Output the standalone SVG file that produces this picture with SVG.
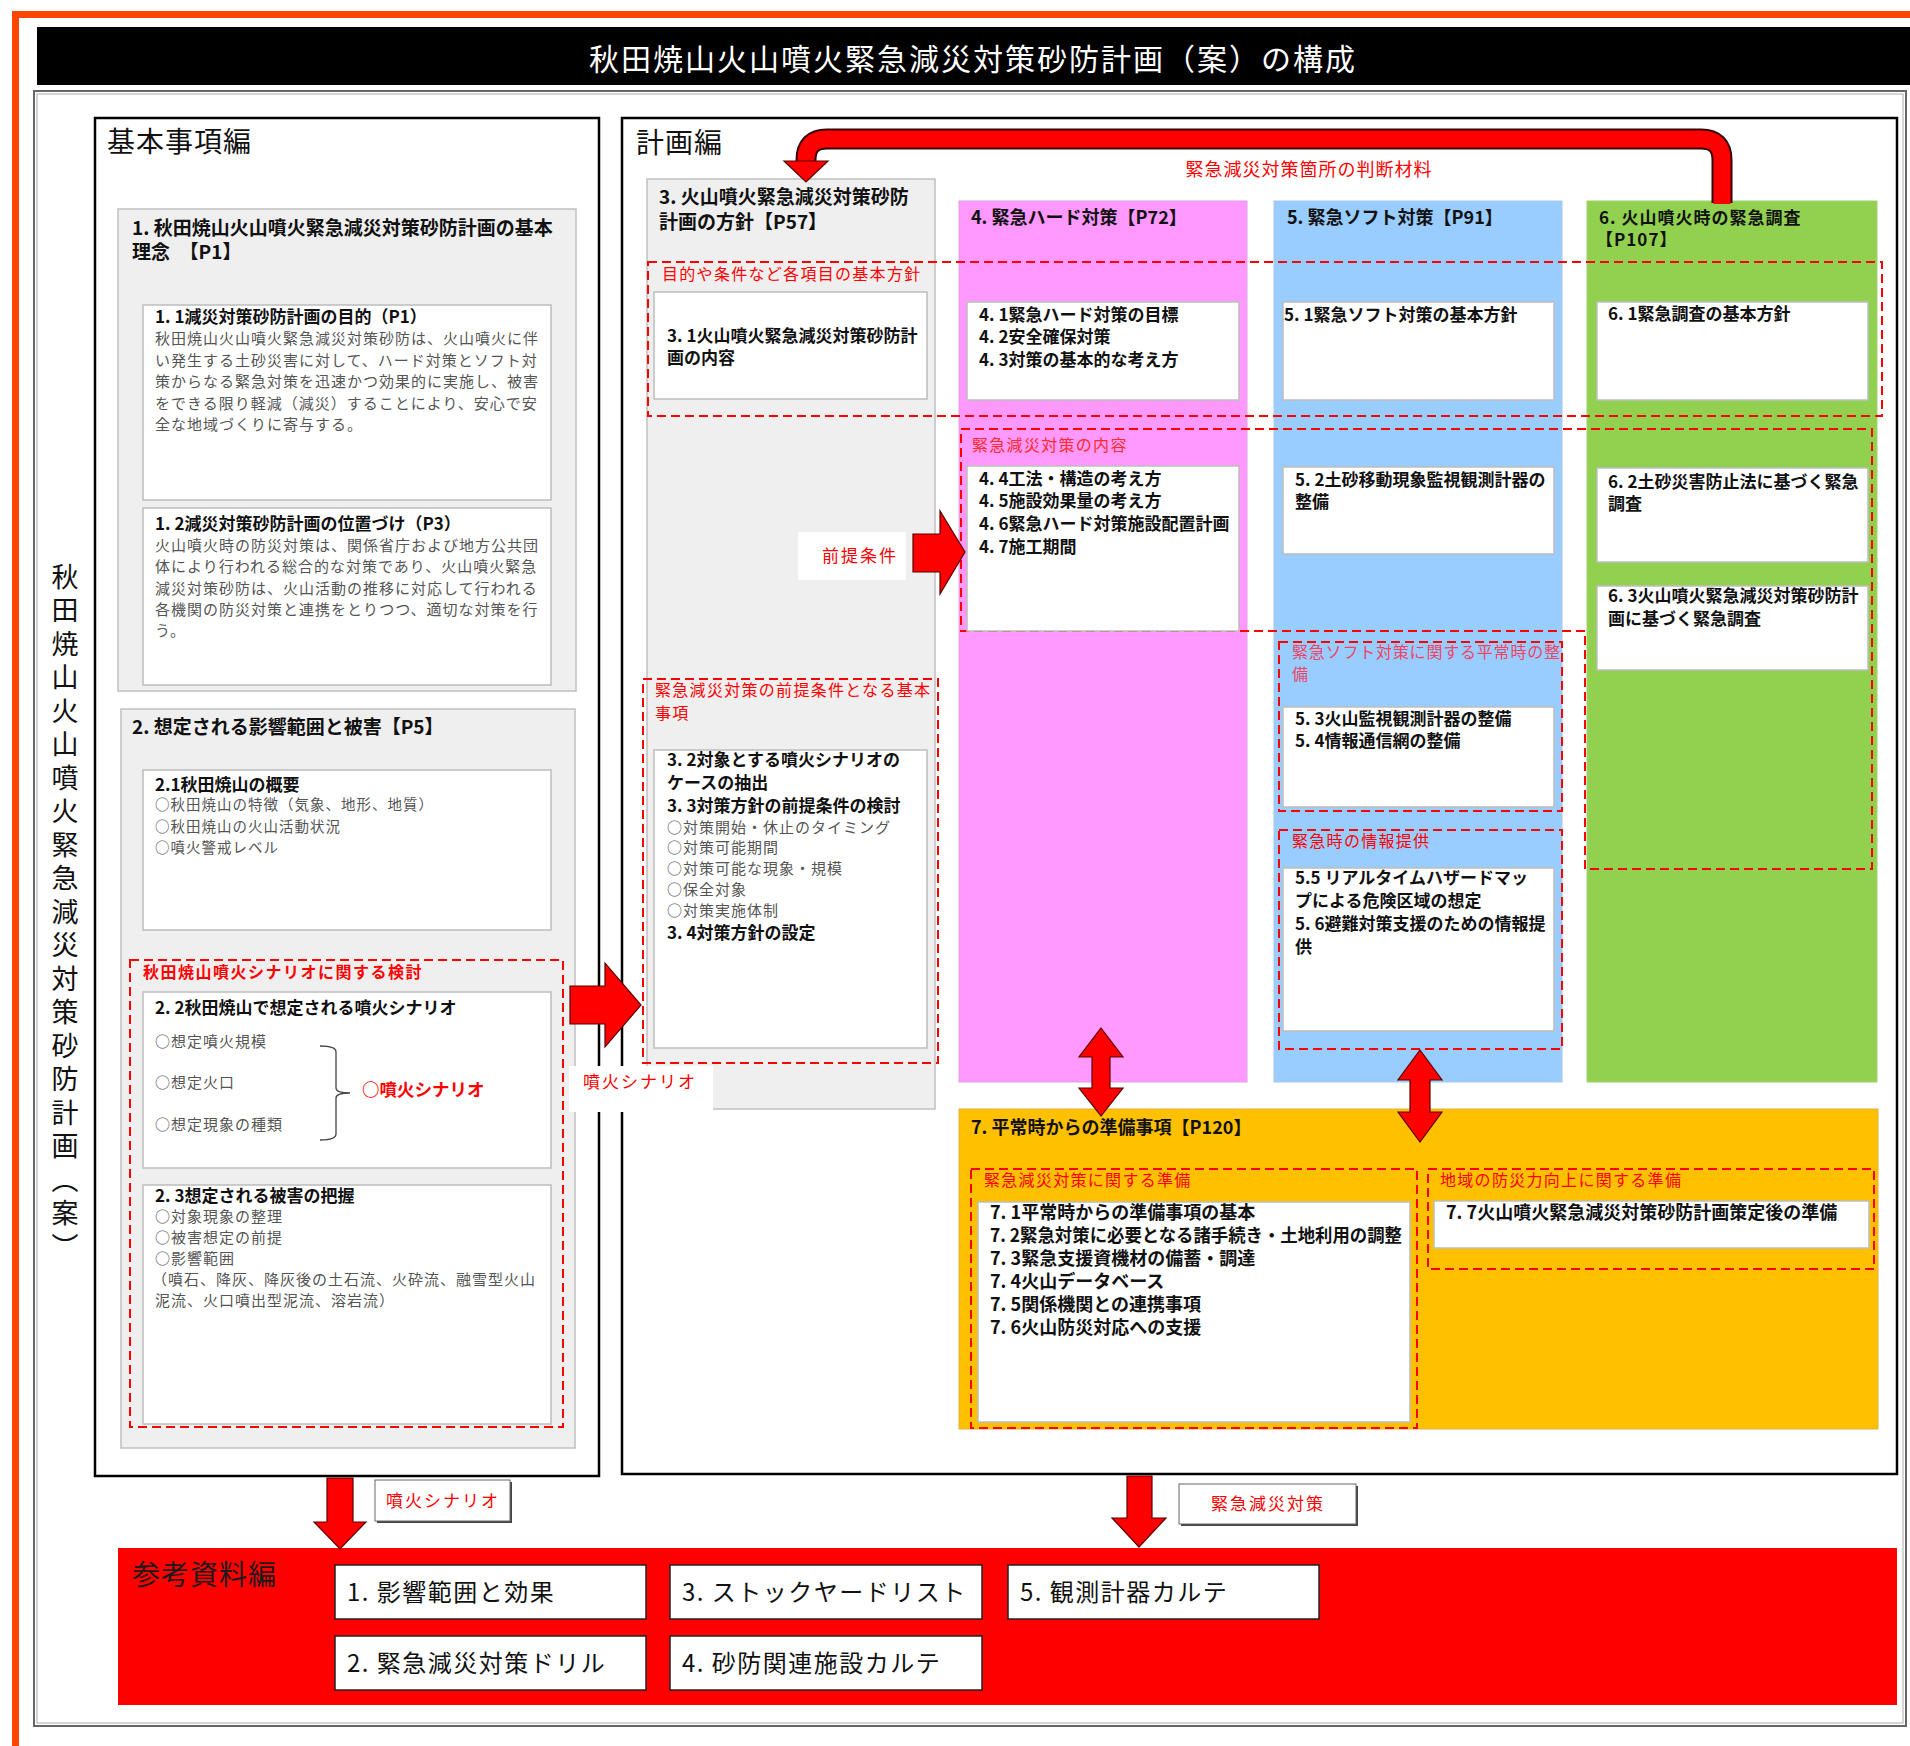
<svg xmlns="http://www.w3.org/2000/svg" width="1910" height="1746" viewBox="0 0 1910 1746">
<defs>
<style>
text{font-family:"Noto Sans CJK JP","Noto Sans CJK SC",sans-serif;}
.sec{fill:#efefef;stroke:#c0c0c0;stroke-width:1.5}
.box{fill:#ffffff;stroke:#bdbdbd;stroke-width:1.5}
.dash{fill:none;stroke:#ff0000;stroke-width:2;stroke-dasharray:9 5}
.h19{font-size:19px;font-weight:bold;fill:#111}
.h18{font-size:18px;font-weight:bold;fill:#111}
.h17{font-size:17px;font-weight:bold;fill:#111;letter-spacing:1px}
.b17{font-size:17px;font-weight:bold;fill:#111}
.b18{font-size:18px;font-weight:bold;fill:#111}
.g16{font-size:15px;fill:#555;letter-spacing:1px}
.g15{font-size:14.5px;fill:#555;letter-spacing:1px}
.r17{font-size:16px;fill:#ff0000;letter-spacing:1.3px}
.rb17{font-size:16px;font-weight:bold;fill:#ff0000;letter-spacing:1.5px}
.lbl{font-size:17px;fill:#ff0000;letter-spacing:2px}
.big{font-size:28px;fill:#111;letter-spacing:1px}
.ref{fill:#ffffff;stroke:#222;stroke-width:1.5}
.reft{font-size:24px;fill:#111;letter-spacing:1.5px}
.arr{fill:#ff0000;stroke:#5a0000;stroke-width:1.2;stroke-linejoin:miter}
</style>
</defs>
<rect x="0" y="0" width="1910" height="1746" fill="#ffffff"/>
<!-- page frame -->
<g id="frame">
<rect x="12" y="11" width="1898" height="7" fill="#ff4500"/>
<rect x="12" y="11" width="7" height="1735" fill="#ff4500"/>
<rect x="37" y="27" width="1873" height="58" fill="#000000"/>
<text x="589" y="70" style="font-size:30px;fill:#ffffff;letter-spacing:2px">秋田焼山火山噴火緊急減災対策砂防計画（案）の構成</text>
<rect x="34" y="91" width="1872" height="1635" fill="none" stroke="#666" stroke-width="2"/>
<rect x="37" y="94" width="1866" height="1629" fill="none" stroke="#aaa" stroke-width="1"/>
<text x="65" y="563" style="font-size:27px;fill:#111;writing-mode:vertical-rl;letter-spacing:6.5px">秋田焼山火山噴火緊急減災対策砂防計画（案）</text>
</g>

<!-- 基本事項編 -->
<g id="panel-kihon">
<rect x="95" y="118" width="504" height="1358" fill="#ffffff" stroke="#000" stroke-width="2.5"/>
<text x="107" y="152" class="big">基本事項編</text>
</g>
<g id="sec1">
<rect x="118" y="209" width="458" height="482" class="sec"/>
<text x="132" y="235" class="h19">1. 秋田焼山火山噴火緊急減災対策砂防計画の基本</text>
<text x="132" y="259" class="h19">理念　【P1】</text>
</g>
<g id="box1-1">
<rect x="143" y="305" width="408" height="195" class="box"/>
<text x="155" y="323" class="b17">1. 1減災対策砂防計画の目的（P1）</text>
<text class="g16"><tspan x="155" y="344">秋田焼山火山噴火緊急減災対策砂防は、火山噴火に伴</tspan><tspan x="155" y="366">い発生する土砂災害に対して、ハード対策とソフト対</tspan><tspan x="155" y="387">策からなる緊急対策を迅速かつ効果的に実施し、被害</tspan><tspan x="155" y="409">をできる限り軽減（減災）することにより、安心で安</tspan><tspan x="155" y="430">全な地域づくりに寄与する。</tspan></text>
</g>
<g id="box1-2">
<rect x="143" y="508" width="408" height="177" class="box"/>
<text x="155" y="530" class="b17">1. 2減災対策砂防計画の位置づけ（P3）</text>
<text class="g16"><tspan x="155" y="551">火山噴火時の防災対策は、関係省庁および地方公共団</tspan><tspan x="155" y="572">体により行われる総合的な対策であり、火山噴火緊急</tspan><tspan x="155" y="594">減災対策砂防は、火山活動の推移に対応して行われる</tspan><tspan x="155" y="615">各機関の防災対策と連携をとりつつ、適切な対策を行</tspan><tspan x="155" y="636">う。</tspan></text>
</g>
<g id="sec2">
<rect x="121" y="709" width="454" height="739" class="sec"/>
<text x="132" y="734" class="h19">2. 想定される影響範囲と被害【P5】</text>
</g>
<g id="box2-1">
<rect x="143" y="770" width="408" height="160" class="box"/>
<text x="155" y="791" class="b17">2.1秋田焼山の概要</text>
<text class="g15"><tspan x="155" y="810">○秋田焼山の特徴（気象、地形、地質）</tspan><tspan x="155" y="832">○秋田焼山の火山活動状況</tspan><tspan x="155" y="853">○噴火警戒レベル</tspan></text>
</g>
<g id="group-scenario">
<rect x="130" y="960" width="433" height="467" class="dash"/>
<text x="143" y="978" class="rb17">秋田焼山噴火シナリオに関する検討</text>
</g>
<g id="box2-2">
<rect x="143" y="992" width="408" height="176" class="box"/>
<text x="155" y="1014" class="b17">2. 2秋田焼山で想定される噴火シナリオ</text>
<text class="g16"><tspan x="155" y="1047">○想定噴火規模</tspan><tspan x="155" y="1088">○想定火口</tspan><tspan x="155" y="1130">○想定現象の種類</tspan></text>
<path d="M320,1046 Q336,1046 336,1052 V1088 Q336,1093 350,1093 Q336,1093 336,1098 V1134 Q336,1140 320,1140" fill="none" stroke="#444" stroke-width="1.3"/>
<text x="362" y="1096" style="font-size:17.5px;font-weight:bold;fill:#ff0000">○噴火シナリオ</text>
</g>
<g id="box2-3">
<rect x="143" y="1185" width="408" height="239" class="box"/>
<text x="155" y="1202" class="b17">2. 3想定される被害の把握</text>
<text class="g16"><tspan x="155" y="1222">○対象現象の整理</tspan><tspan x="155" y="1243">○被害想定の前提</tspan><tspan x="155" y="1264">○影響範囲</tspan><tspan x="152" y="1285">（噴石、降灰、降灰後の土石流、火砕流、融雪型火山</tspan><tspan x="155" y="1306">泥流、火口噴出型泥流、溶岩流）</tspan></text>
</g>

<!-- 計画編 -->
<g id="panel-keikaku">
<rect x="622" y="118" width="1275" height="1356" fill="#ffffff" stroke="#000" stroke-width="2.5"/>
<text x="636" y="153" class="big">計画編</text>
</g>
<g id="sec3">
<rect x="647" y="179" width="288" height="930" class="sec"/>
<text x="659" y="204" class="h19">3. 火山噴火緊急減災対策砂防</text>
<text x="659" y="229" class="h19">計画の方針【P57】</text>
</g>
<g id="col4">
<rect x="959" y="201" width="288" height="881" fill="#ff99ff" stroke="#e0a0e0" stroke-width="1"/>
<text x="971" y="224" class="h18">4. 緊急ハード対策【P72】</text>
</g>
<g id="col5">
<rect x="1274" y="201" width="288" height="881" fill="#99ccff" stroke="#a8c8e8" stroke-width="1"/>
<text x="1287" y="224" class="h18">5. 緊急ソフト対策【P91】</text>
</g>
<g id="col6">
<rect x="1587" y="201" width="290" height="881" fill="#92d050" stroke="#a0d070" stroke-width="1"/>
<text x="1599" y="224" class="h17">6. 火山噴火時の緊急調査</text>
<text x="1596" y="246" class="h17">【P107】</text>
</g>
<g id="sec7">
<rect x="959" y="1109" width="919" height="320" fill="#ffc000" stroke="#e0b040" stroke-width="1"/>
<text x="971" y="1134" class="b18">7. 平常時からの準備事項【P120】</text>
</g>

<g id="group-basic">
<rect x="648" y="262" width="1234" height="154" class="dash"/>
<text x="662" y="280" class="r17">目的や条件など各項目の基本方針</text>
</g>
<g id="box3-1">
<rect x="654" y="292" width="273" height="107" class="box"/>
<text class="b17"><tspan x="667" y="342">3. 1火山噴火緊急減災対策砂防計</tspan><tspan x="667" y="364">画の内容</tspan></text>
</g>
<g id="group-premise">
<rect x="643" y="679" width="295" height="384" class="dash"/>
<text class="r17"><tspan x="655" y="696">緊急減災対策の前提条件となる基本</tspan><tspan x="655" y="719">事項</tspan></text>
</g>
<g id="box3-2">
<rect x="654" y="750" width="273" height="298" class="box"/>
<text class="b17"><tspan x="667" y="766">3. 2対象とする噴火シナリオの</tspan><tspan x="667" y="789">ケースの抽出</tspan><tspan x="667" y="812">3. 3対策方針の前提条件の検討</tspan></text>
<text class="g16"><tspan x="667" y="833">○対策開始・休止のタイミング</tspan><tspan x="667" y="853">○対策可能期間</tspan><tspan x="667" y="874">○対策可能な現象・規模</tspan><tspan x="667" y="895">○保全対象</tspan><tspan x="667" y="916">○対策実施体制</tspan></text>
<text x="667" y="939" class="b17">3. 4対策方針の設定</text>
</g>

<g id="box4-1">
<rect x="967" y="302" width="272" height="98" class="box"/>
<text class="b17"><tspan x="979" y="321">4. 1緊急ハード対策の目標</tspan><tspan x="979" y="343">4. 2安全確保対策</tspan><tspan x="979" y="366">4. 3対策の基本的な考え方</tspan></text>
</g>
<g id="group-content">
<path d="M961,429 H1872 V869 H1585 V631 H961 Z" class="dash"/>
<text x="972" y="451" class="r17" style="fill:#ff2a2a">緊急減災対策の内容</text>
</g>
<g id="box4-4">
<rect x="967" y="466" width="272" height="165" class="box"/>
<text class="b17"><tspan x="979" y="485">4. 4工法・構造の考え方</tspan><tspan x="979" y="507">4. 5施設効果量の考え方</tspan><tspan x="979" y="530">4. 6緊急ハード対策施設配置計画</tspan><tspan x="979" y="553">4. 7施工期間</tspan></text>
</g>

<g id="box5-1">
<rect x="1283" y="302" width="271" height="98" class="box"/>
<text x="1284" y="321" class="b17">5. 1緊急ソフト対策の基本方針</text>
</g>
<g id="box5-2">
<rect x="1283" y="467" width="271" height="87" class="box"/>
<text class="b17"><tspan x="1295" y="486">5. 2土砂移動現象監視観測計器の</tspan><tspan x="1295" y="508">整備</tspan></text>
</g>
<g id="group-soft-normal">
<rect x="1279" y="642" width="283" height="169" class="dash"/>
<text class="r17" style="fill:#ee4466;letter-spacing:0.8px"><tspan x="1292" y="658">緊急ソフト対策に関する平常時の整</tspan><tspan x="1292" y="680">備</tspan></text>
</g>
<g id="box5-3">
<rect x="1283" y="707" width="271" height="100" class="box"/>
<text class="b17"><tspan x="1295" y="725">5. 3火山監視観測計器の整備</tspan><tspan x="1295" y="747">5. 4情報通信網の整備</tspan></text>
</g>
<g id="group-info">
<rect x="1279" y="830" width="283" height="219" class="dash"/>
<text x="1292" y="847" class="r17">緊急時の情報提供</text>
</g>
<g id="box5-5">
<rect x="1283" y="868" width="271" height="163" class="box"/>
<text class="b17"><tspan x="1295" y="884">5.5 リアルタイムハザードマッ</tspan><tspan x="1295" y="907">プによる危険区域の想定</tspan><tspan x="1295" y="930">5. 6避難対策支援のための情報提</tspan><tspan x="1295" y="953">供</tspan></text>
</g>

<g id="box6-1">
<rect x="1597" y="302" width="271" height="98" class="box"/>
<text x="1608" y="320" class="b17">6. 1緊急調査の基本方針</text>
</g>
<g id="box6-2">
<rect x="1597" y="468" width="271" height="94" class="box"/>
<text class="b17"><tspan x="1608" y="488">6. 2土砂災害防止法に基づく緊急</tspan><tspan x="1608" y="510">調査</tspan></text>
</g>
<g id="box6-3">
<rect x="1597" y="586" width="271" height="84" class="box"/>
<text class="b17"><tspan x="1608" y="602">6. 3火山噴火緊急減災対策砂防計</tspan><tspan x="1608" y="625">画に基づく緊急調査</tspan></text>
</g>

<g id="group-prep">
<rect x="971" y="1169" width="446" height="259" class="dash"/>
<text x="984" y="1186" class="r17">緊急減災対策に関する準備</text>
</g>
<g id="box7-1">
<rect x="978" y="1202" width="432" height="220" class="box"/>
<text class="b18"><tspan x="990" y="1219">7. 1平常時からの準備事項の基本</tspan><tspan x="990" y="1242" textLength="412" lengthAdjust="spacingAndGlyphs">7. 2緊急対策に必要となる諸手続き・土地利用の調整</tspan><tspan x="990" y="1265">7. 3緊急支援資機材の備蓄・調達</tspan><tspan x="990" y="1288">7. 4火山データベース</tspan><tspan x="990" y="1311">7. 5関係機関との連携事項</tspan><tspan x="990" y="1334">7. 6火山防災対応への支援</tspan></text>
</g>
<g id="group-region">
<rect x="1428" y="1169" width="446" height="100" class="dash"/>
<text x="1440" y="1186" class="r17">地域の防災力向上に関する準備</text>
</g>
<g id="box7-7">
<rect x="1434" y="1201" width="435" height="47" class="box"/>
<text x="1446" y="1219" class="b18">7. 7火山噴火緊急減災対策砂防計画策定後の準備</text>
</g>

<!-- 参考資料編 -->
<g id="panel-sanko">
<rect x="118" y="1548" width="1779" height="157" fill="#ff0000"/>
<text x="132" y="1585" class="big" style="fill:#1a1a1a">参考資料編</text>
</g>
<g id="ref1"><rect x="335" y="1565" width="311" height="54" class="ref"/><text x="347" y="1601" class="reft">1. 影響範囲と効果</text></g>
<g id="ref3"><rect x="670" y="1565" width="312" height="54" class="ref"/><text x="682" y="1601" class="reft">3. ストックヤードリスト</text></g>
<g id="ref5"><rect x="1008" y="1565" width="311" height="54" class="ref"/><text x="1020" y="1601" class="reft">5. 観測計器カルテ</text></g>
<g id="ref2"><rect x="335" y="1636" width="311" height="54" class="ref"/><text x="347" y="1672" class="reft">2. 緊急減災対策ドリル</text></g>
<g id="ref4"><rect x="670" y="1636" width="312" height="54" class="ref"/><text x="682" y="1672" class="reft">4. 砂防関連施設カルテ</text></g>

<!-- connectors -->
<g id="connectors">
<path d="M1722,203 V160 Q1722,139 1701,139 H827 Q806,139 806,160 V164" fill="none" stroke="#3a0000" stroke-width="21"/>
<path d="M1722,204 V160 Q1722,139 1701,139 H827 Q806,139 806,160 V165" fill="none" stroke="#ff0000" stroke-width="17"/>
<polygon points="784,161 828,161 806,182" class="arr"/>
<text x="1309" y="176" text-anchor="middle" style="font-size:18px;fill:#ff0000;letter-spacing:1px">緊急減災対策箇所の判断材料</text>

<rect x="798" y="532" width="108" height="48" fill="#ffffff"/>
<text x="822" y="562" class="lbl">前提条件</text>
<polygon points="913,534 940,534 940,511 965,552 940,594 940,572 913,572" class="arr"/>

<rect x="569" y="1066" width="144" height="46" fill="#ffffff"/>
<text x="583" y="1088" class="lbl">噴火シナリオ</text>
<polygon points="570,986 605,986 605,963 641,1005 605,1047 605,1024 570,1024" class="arr"/>

<polygon points="1101,1028 1123,1057 1110,1057 1110,1088 1123,1088 1101,1116 1079,1088 1092,1088 1092,1057 1079,1057" class="arr"/>
<polygon points="1420,1050 1442,1080 1430,1080 1430,1112 1442,1112 1420,1142 1398,1112 1410,1112 1410,1080 1398,1080" class="arr"/>

<polygon points="327,1478 353,1478 353,1522 366,1522 340,1549 314,1522 327,1522" class="arr"/>
<rect x="377" y="1482" width="135" height="41" fill="#444"/>
<rect x="375" y="1480" width="135" height="41" fill="#ffffff" stroke="#666" stroke-width="1"/>
<text x="443" y="1507" text-anchor="middle" class="lbl">噴火シナリオ</text>

<polygon points="1127,1476 1152,1476 1152,1518 1166,1518 1139,1547 1112,1518 1127,1518" class="arr"/>
<rect x="1181" y="1486" width="177" height="40" fill="#444"/>
<rect x="1179" y="1484" width="177" height="40" fill="#ffffff" stroke="#666" stroke-width="1"/>
<text x="1268" y="1510" text-anchor="middle" class="lbl">緊急減災対策</text>
</g>
</svg>
